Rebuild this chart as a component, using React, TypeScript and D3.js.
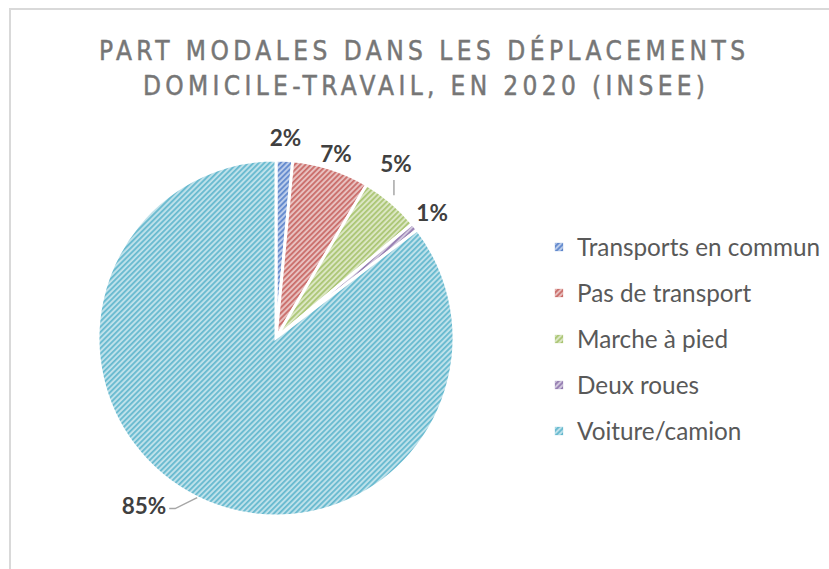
import React from "react";
import * as d3 from "d3";

const categories = ["Transports en commun", "Pas de transport", "Marche à pied", "Deux roues", "Voiture/camion"];
const values = [1.5, 7.0, 5.4, 0.7, 85.4];
const labels = ["2%", "7%", "5%", "1%", "85%"];
const colors = ["#4472C4", "#C0504D", "#9BBB59", "#8064A2", "#4BACC6"];
const titleLines = ["PART MODALES DANS LES DÉPLACEMENTS", "DOMICILE-TRAVAIL, EN 2020 (INSEE)"];

const W = 829, H = 569;
const cx = 276, cy = 338, R = 178;

export default function App() {
  const pie = d3.pie<number>().sort(null).value((d) => d)(values);
  const arc = d3.arc<d3.PieArcDatum<number>>().innerRadius(0).outerRadius(R);
  const labelArc = (r: number) => d3.arc<d3.PieArcDatum<number>>().innerRadius(r).outerRadius(r);

  const labelR = [200, 194, 0, 200, 0];

  const legendY = d3.scalePoint<string>().domain(categories).range([247, 431]);

  return (
    <div style={{ position: "absolute", left: 0, top: 0 }}>
      <svg width={W} height={H} style={{ display: "block", background: "#fff" }}>
        <defs>
          {colors.map((c, i) => (
            <pattern key={i} id={`pat${i}`} width={3.8} height={3.8} patternUnits="userSpaceOnUse" patternTransform="rotate(45)">
              <rect width={3.8} height={3.8} fill={c} opacity={0.36} />
              <line x1={0.9} y1={0} x2={0.9} y2={3.8} stroke={c} strokeWidth={1.5} opacity={0.9} />
            </pattern>
          ))}
        </defs>
        <rect x={10} y={9} width={W + 20} height={H + 20} fill="#fff" stroke="#d9d9d9" strokeWidth={2} />
        <g fontFamily="'Liberation Sans Narrow', 'DejaVu Sans Condensed', 'Open Sans', sans-serif" fill="#767676" stroke="#767676" strokeWidth={0.45} fontSize={26} textAnchor="middle">
          <text x={422} y={60} textLength={646} lengthAdjust="spacing">{titleLines[0]}</text>
          <text x={424} y={95} textLength={562} lengthAdjust="spacing">{titleLines[1]}</text>
        </g>
        <g transform={`translate(${cx},${cy})`}>
          {pie.map((p, i) => (
            <path key={i} d={arc(p) || ""} fill={`url(#pat${i})`} stroke="#fff" strokeWidth={3} strokeLinejoin="miter" />
          ))}
          {pie.map((p, i) => {
            if (labelR[i] === 0) return null;
            const [x, y] = labelArc(labelR[i]).centroid(p);
            return (
              <text key={i} x={x} y={y} dy="0.36em" textAnchor="middle" fontFamily="Lato, sans-serif" fontWeight="bold" fontSize={22.5} fill="#404040">
                {labels[i]}
              </text>
            );
          })}
          {(() => {
            const p = pie[2];
            const [ex, ey] = labelArc(R + 12).centroid(p);
            const lx = ex - 8;
            return (
              <g>
                <line x1={lx + 3} y1={ey + 2} x2={lx + 3} y2={-158} stroke="#a6a6a6" strokeWidth={1.5} />
                <text x={lx + 5} y={-174} dy="0.36em" textAnchor="middle" fontFamily="Lato, sans-serif" fontWeight="bold" fontSize={22.5} fill="#404040">{labels[2]}</text>
              </g>
            );
          })()}
          {(() => {
            const p = pie[4];
            const [ex, ey] = labelArc(R).centroid(p);
            return (
              <g>
                <polyline points={`${ex},${ey} ${ex - 22},${ey + 11} ${ex - 28},${ey + 11}`} fill="none" stroke="#a6a6a6" strokeWidth={1.5} />
                <text x={ex - 31} y={ey + 8} dy="0.36em" textAnchor="end" fontFamily="Lato, sans-serif" fontWeight="bold" fontSize={22.5} fill="#404040">{labels[4]}</text>
              </g>
            );
          })()}
        </g>
        <g fontFamily="Lato, 'Open Sans', sans-serif" fontSize={24.3} fill="#595959">
          {categories.map((c, i) => (
            <g key={c} transform={`translate(0,${legendY(c)})`}>
              <rect x={555} y={-4} width={8} height={8} fill={`url(#pat${i})`} stroke={colors[i]} strokeOpacity={0.4} strokeWidth={0.5} />
              <text x={577} y={0} dy="0.36em">{c}</text>
            </g>
          ))}
        </g>
      </svg>
    </div>
  );
}
